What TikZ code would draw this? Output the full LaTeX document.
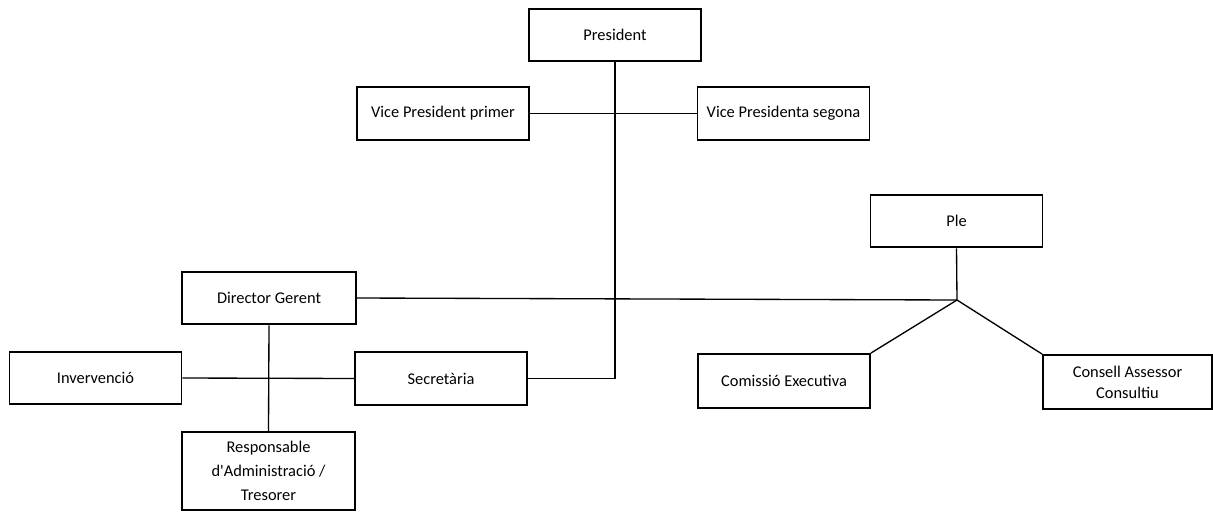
\documentclass[tikz,border=0pt]{standalone}
\usepackage{fontspec}
\setmainfont{Carlito}
\begin{document}
\begin{tikzpicture}[x=0.75pt,y=-0.75pt,
  orgbox/.style={draw=black, line width=1.4pt, fill=white, rectangle, inner sep=0pt,
    minimum width=129pt, minimum height=39.5pt, align=center, text=black,
    font=\fontsize{12.3}{15.5}\selectfont},
  link/.style={draw=black, line width=1pt}]
\useasboundingbox (0,0) rectangle (1213,511);
\node[orgbox] (pres) at (615,35) {President};
\node[orgbox] (vp1) at (443,113.5) {Vice President primer};
\node[orgbox] (vp2) at (783.5,113.5) {Vice Presidenta segona};
\node[orgbox] (ple) at (956.5,221) {Ple};
\node[orgbox, minimum width=130.5pt] (dg) at (269,298) {Director Gerent};
\node[orgbox] (inv) at (95.5,378) {Invervenció};
\node[orgbox] (sec) at (441,378.5) {Secretària};
\node[orgbox, minimum width=129.75pt, minimum height=58.5pt, font=\fontsize{12.3}{17.8}\selectfont] (resp) at (268.5,471) {Responsable\\d\textquotesingle Administració /\\Tresorer};
\node[orgbox, minimum height=40.5pt] (com) at (784,381) {Comissió Executiva};
\node[orgbox, minimum width=126.75pt, minimum height=40.5pt, font=\fontsize{12.3}{15.7}\selectfont] (cons) at (1127.5,382) {Consell Assessor\\Consultiu};
\coordinate (J) at (957,300);
\draw[link] (pres.south) -- (pres.south |- sec.east) -- (sec.east);
\draw[link] (vp1.east) -- (vp2.west);
\draw[link] (ple.south) -- (J);
\draw[link] (dg.east) -- (J);
\draw[link] (J) -- (com.north east);
\draw[link] (J) -- (cons.north west);
\draw[link] (dg.south) -- (resp.north);
\draw[link] (inv.east) -- (sec.west);
\end{tikzpicture}
\end{document}
